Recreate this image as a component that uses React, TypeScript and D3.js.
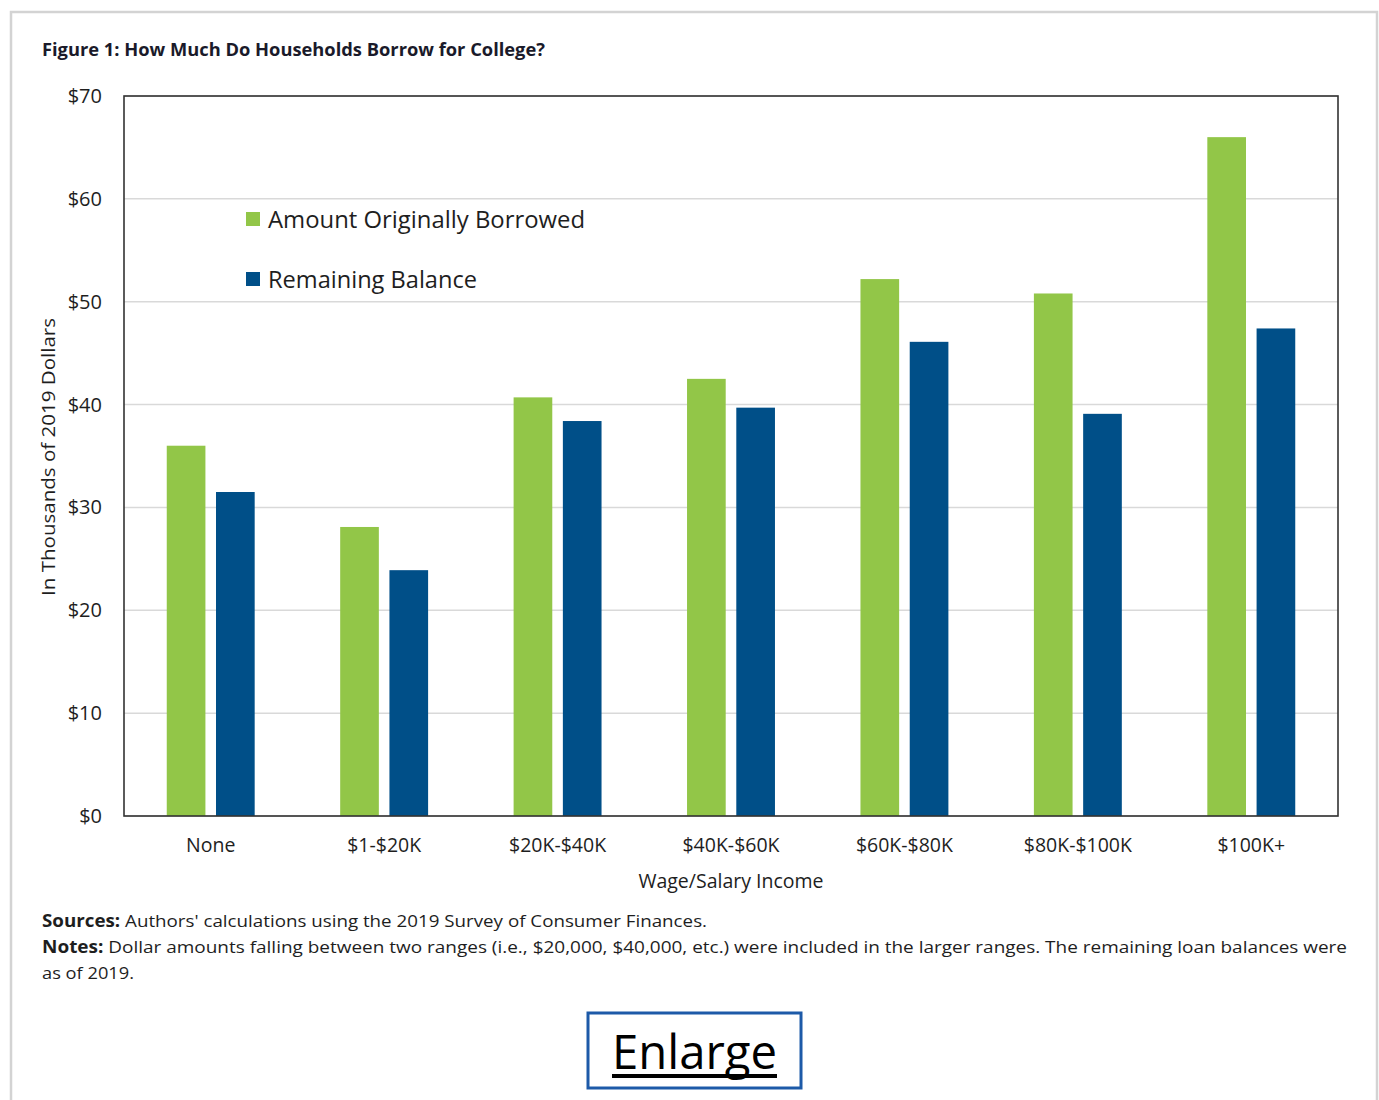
import React from "react";
import * as d3 from "d3";

const categories = ["None", "$1-$20K", "$20K-$40K", "$40K-$60K", "$60K-$80K", "$80K-$100K", "$100K+"];
const borrowed = [36.0, 28.1, 40.7, 42.5, 52.2, 50.8, 66.0];
const remaining = [31.5, 23.9, 38.4, 39.7, 46.1, 39.1, 47.4];
const seriesNames = ["Amount Originally Borrowed", "Remaining Balance"];
const seriesColors = ["#92c648", "#004f88"];
const yTicks = [0, 10, 20, 30, 40, 50, 60, 70];

const W = 1379;
const H = 1100;
const M = { left: 124, right: 1338, top: 96, bottom: 816 };
const FONT = "'Open Sans', 'DejaVu Sans', sans-serif";
const TXT = "#1e1e1e";

export default function App() {
  const x0 = d3
    .scaleBand<string>()
    .domain(categories)
    .range([M.left, M.right])
    .paddingInner(0.493)
    .paddingOuter(0.2465);
  const x1 = d3
    .scaleBand<number>()
    .domain([0, 1])
    .range([0, x0.bandwidth()])
    .paddingInner(0.215);
  const y = d3.scaleLinear().domain([0, 70]).range([M.bottom, M.top]);
  const series = [borrowed, remaining];

  return (
    <svg
      width={W}
      height={H}
      style={{ position: "absolute", left: 0, top: 0, background: "#fff" }}
      fontFamily={FONT}
    >
      {/* outer frame */}
      <path d={`M11,1100 V12 H1377 V1100`} fill="none" stroke="#d3d3d3" strokeWidth={2.5} />

      {/* title */}
      <text x={42} y={56} fontSize={18} fontWeight={700} fill="#1a1a2a" textLength={503} lengthAdjust="spacingAndGlyphs">
        Figure 1: How Much Do Households Borrow for College?
      </text>

      {/* grid */}
      {yTicks.map((t) => (
        <line key={t} x1={M.left} x2={M.right} y1={y(t)} y2={y(t)} stroke="#d9d9d9" strokeWidth={1.5} />
      ))}
      {/* y tick labels */}
      {yTicks.map((t) => (
        <text key={"l" + t} x={102} y={y(t) + 7} fontSize={20} textAnchor="end" fill={TXT}>
          {`$${t}`}
        </text>
      ))}

      {/* bars */}
      {categories.map((c, i) => (
        <g key={c} transform={`translate(${x0(c)},0)`}>
          {series.map((s, k) => (
            <rect
              key={k}
              x={x1(k)}
              y={y(s[i])}
              width={x1.bandwidth()}
              height={y(0) - y(s[i])}
              fill={seriesColors[k]}
            />
          ))}
        </g>
      ))}

      {/* plot frame */}
      <rect
        x={M.left}
        y={M.top}
        width={M.right - M.left}
        height={M.bottom - M.top}
        fill="none"
        stroke="#333"
        strokeWidth={1.6}
      />

      {/* x labels */}
      {categories.map((c) => (
        <text key={"x" + c} x={(x0(c) as number) + x0.bandwidth() / 2} y={852} fontSize={19.5} textAnchor="middle" fill={TXT}>
          {c}
        </text>
      ))}
      <text x={731} y={888} fontSize={19.5} textAnchor="middle" fill={TXT}>
        Wage/Salary Income
      </text>

      {/* y title */}
      <text
        transform={`translate(55,457) rotate(-90)`}
        fontSize={18}
        textAnchor="middle"
        fill={TXT}
        textLength={278}
        lengthAdjust="spacingAndGlyphs"
      >
        In Thousands of 2019 Dollars
      </text>

      {/* legend */}
      {seriesNames.map((n, k) => (
        <g key={n}>
          <rect x={246} y={212 + k * 60} width={14} height={14} fill={seriesColors[k]} />
          <text
            x={268}
            y={228 + k * 60}
            fontSize={24}
            fill={TXT}
            textLength={k === 0 ? 317 : 209}
            lengthAdjust="spacingAndGlyphs"
          >
            {n}
          </text>
        </g>
      ))}

      {/* notes */}
      <text x={42} y={927} fontSize={17} fill={TXT} textLength={665} lengthAdjust="spacingAndGlyphs">
        <tspan fontWeight={700}>Sources:</tspan> Authors' calculations using the 2019 Survey of Consumer Finances.
      </text>
      <text x={42} y={953} fontSize={17} fill={TXT} textLength={1305} lengthAdjust="spacingAndGlyphs">
        <tspan fontWeight={700}>Notes:</tspan> Dollar amounts falling between two ranges (i.e., $20,000, $40,000,  etc.) were included in the larger ranges. The remaining loan balances were
      </text>
      <text x={42} y={979} fontSize={17} fill={TXT} textLength={92} lengthAdjust="spacingAndGlyphs">
        as of 2019.
      </text>

      {/* enlarge button */}
      <rect x={588} y={1013} width={213} height={75} fill="#fff" stroke="#1d5aa8" strokeWidth={3} />
      <text x={612} y={1069} fontSize={48} fill="#000" textLength={165} lengthAdjust="spacingAndGlyphs">
        Enlarge
      </text>
      <rect x={612} y={1074} width={165} height={4} fill="#000" />
    </svg>
  );
}
